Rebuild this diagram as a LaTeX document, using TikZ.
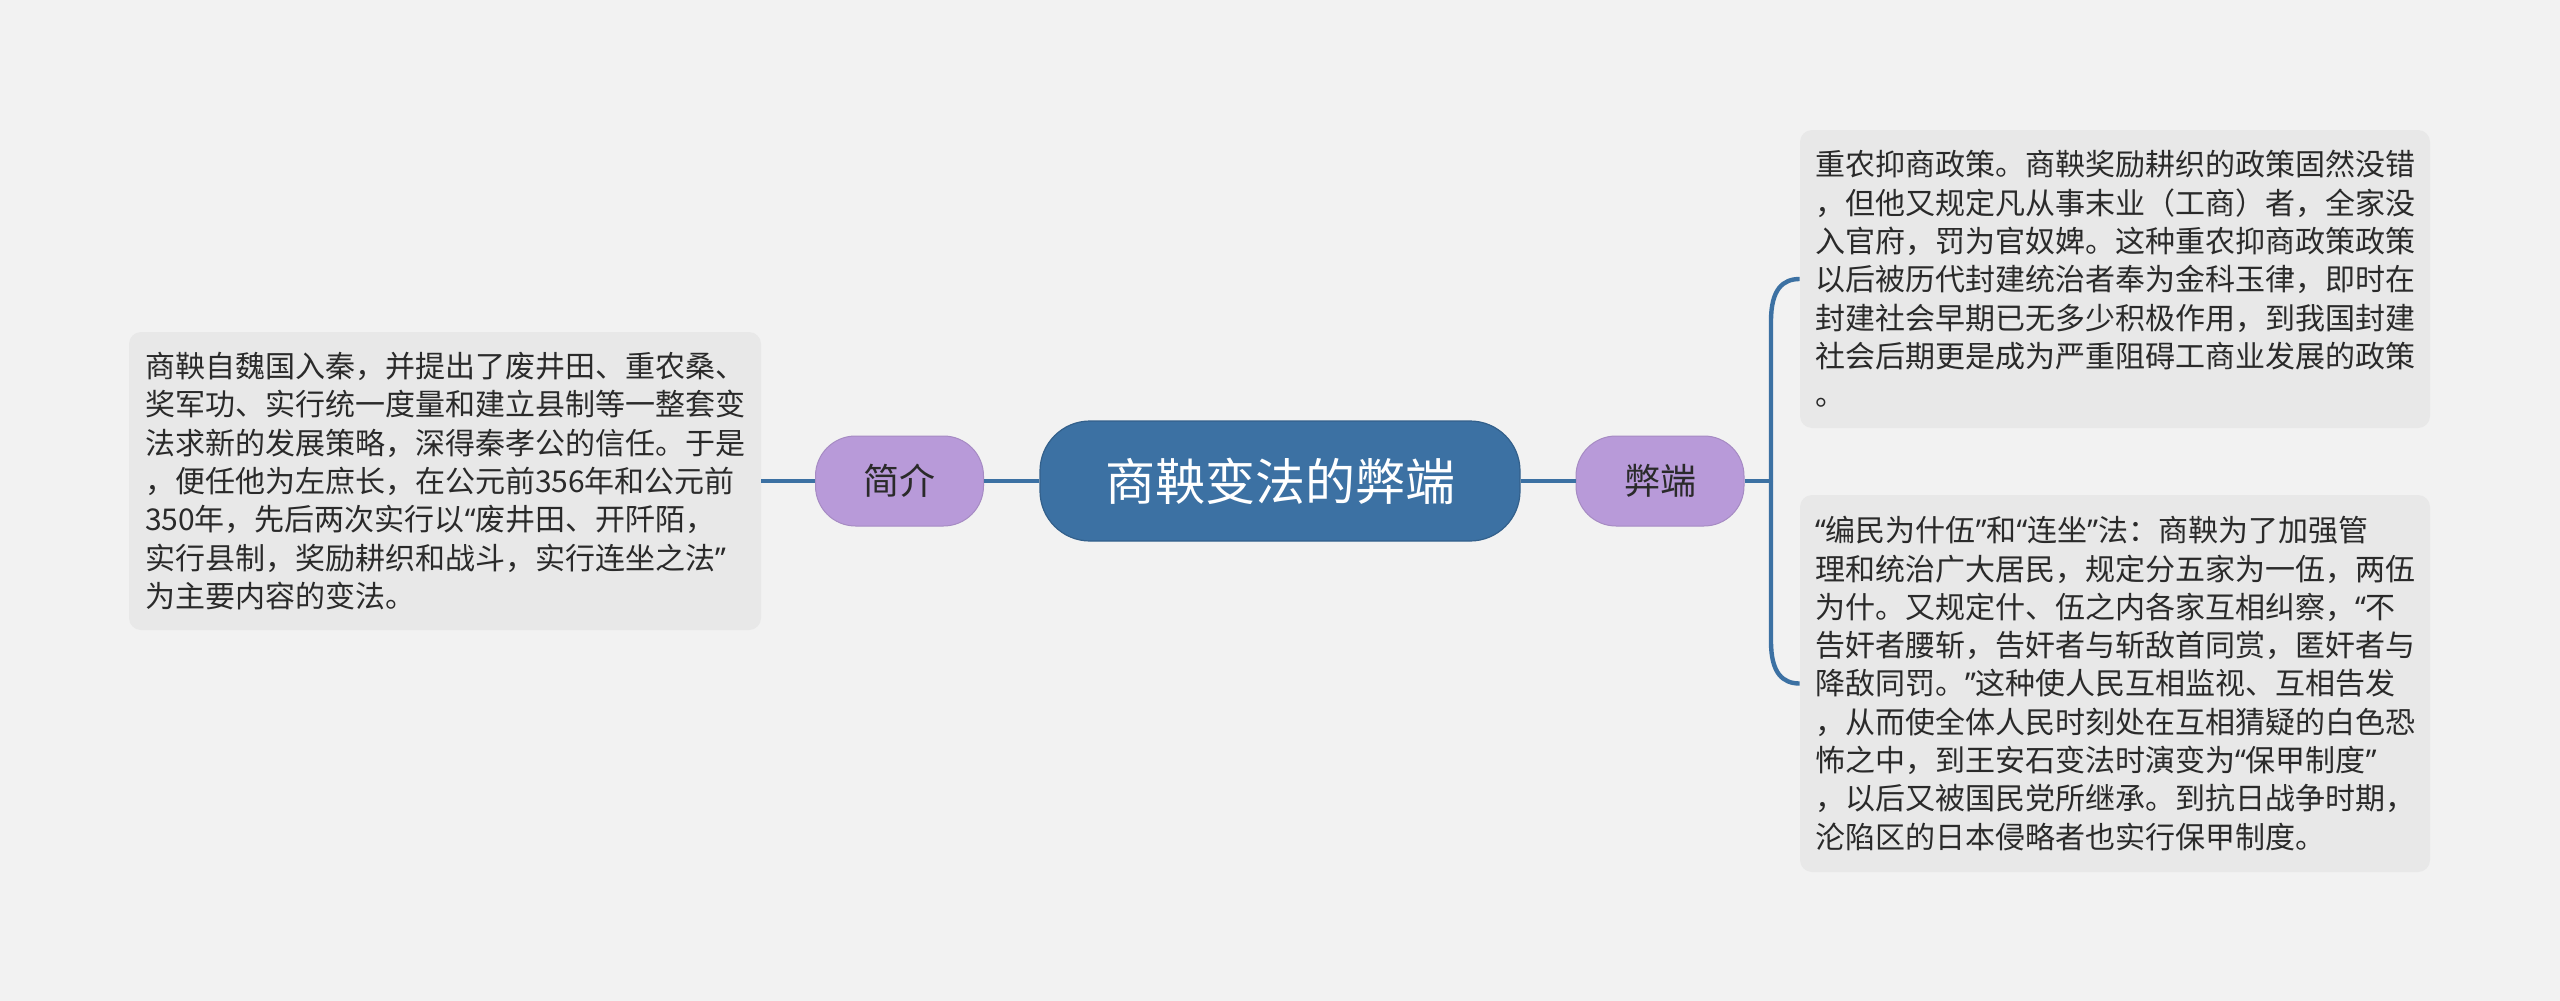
\documentclass[tikz,border=0pt]{standalone}
\usepackage{fontspec}
\setmainfont{Noto Sans CJK SC}
\newfontfamily\quotefont{Noto Sans}
\newcommand{\cnlq}{{\quotefont “}}
\newcommand{\cnrq}{{\quotefont ”}}
\usetikzlibrary{calc}
\definecolor{bgcol}{HTML}{F2F2F2}
\definecolor{boxfill}{HTML}{E8E8E8}
\definecolor{mainblue}{HTML}{3C71A3}
\definecolor{purp}{HTML}{B89AD9}
\definecolor{txt}{HTML}{2A2A2A}
\begin{document}
\begin{tikzpicture}[x=0.5pt,y=-0.5pt,
  textbox/.style={fill=boxfill, rounded corners=6pt, text width=300pt, align=left,
    inner xsep=8pt, inner ysep=0pt, font=\fontsize{15pt}{19.15pt}\selectfont, text=txt},
  topic/.style={fill=mainblue, draw=mainblue!85!black, line width=0.6pt, rounded corners=25pt,
    minimum width=240pt, minimum height=60pt, inner sep=0pt, text=white,
    font=\fontsize{25pt}{30pt}\selectfont},
  subtopic/.style={fill=purp, draw=purp!90!black, line width=0.5pt, rounded corners=20pt,
    minimum width=84pt, minimum height=45pt, inner sep=0pt, text=txt,
    font=\fontsize{18pt}{22pt}\selectfont},
  link/.style={draw=mainblue, line width=2.2pt}
]
\fill[bgcol] (0,0) rectangle (2560,1001);
\useasboundingbox (0,0) rectangle (2560,1001);

\node[topic] (root) at (1280,481) {商鞅变法的弊端};
\node[subtopic] (intro) at (899.5,481) {简介};
\node[subtopic] (flaw) at (1660,481) {弊端};

\node[textbox, minimum height=149pt] (introtext) at (445,481) {商鞅自魏国入秦，并提出了废井田、重农桑、\\奖军功、实行统一度量和建立县制等一整套变\\法求新的发展策略，深得秦孝公的信任。于是\\，便任他为左庶长，在公元前356年和公元前\\350年，先后两次实行以\cnlq 废井田、开阡陌，\\实行县制，奖励耕织和战斗，实行连坐之法\cnrq\\为主要内容的变法。};

\node[textbox, inner xsep=7.5pt, minimum height=149pt] (flawa) at (2115,279) {重农抑商政策。商鞅奖励耕织的政策固然没错\\，但他又规定凡从事末业（工商）者，全家没\\入官府，罚为官奴婢。这种重农抑商政策政策\\以后被历代封建统治者奉为金科玉律，即时在\\封建社会早期已无多少积极作用，到我国封建\\社会后期更是成为严重阻碍工商业发展的政策\\。};

\node[textbox, inner xsep=7.5pt, minimum height=188.5pt] (flawb) at (2115,683.5) {\cnlq 编民为什伍\cnrq 和\cnlq 连坐\cnrq 法：商鞅为了加强管\\理和统治广大居民，规定分五家为一伍，两伍\\为什。又规定什、伍之内各家互相纠察，\cnlq 不\\告奸者腰斩，告奸者与斩敌首同赏，匿奸者与\\降敌同罚。\cnrq 这种使人民互相监视、互相告发\\，从而使全体人民时刻处在互相猜疑的白色恐\\怖之中，到王安石变法时演变为\cnlq 保甲制度\cnrq\\，以后又被国民党所继承。到抗日战争时期，\\沦陷区的日本侵略者也实行保甲制度。};

\draw[link] (root.west) -- (intro.east);
\draw[link] (intro.west) -- (introtext.east);
\draw[link] (root.east) -- (flaw.west);
\coordinate (fork) at (1771,481);
\draw[link] (flaw.east) -- (fork);
\draw[link] (fork) -- ($(fork |- flawa.west)+(0,42)$) .. controls ($(fork |- flawa.west)+(0,10)$) and ($(fork |- flawa.west)+(12,0)$) .. (flawa.west);
\draw[link] (fork) -- ($(fork |- flawb.west)+(0,-42)$) .. controls ($(fork |- flawb.west)+(0,-10)$) and ($(fork |- flawb.west)+(12,0)$) .. (flawb.west);
\end{tikzpicture}
\end{document}
